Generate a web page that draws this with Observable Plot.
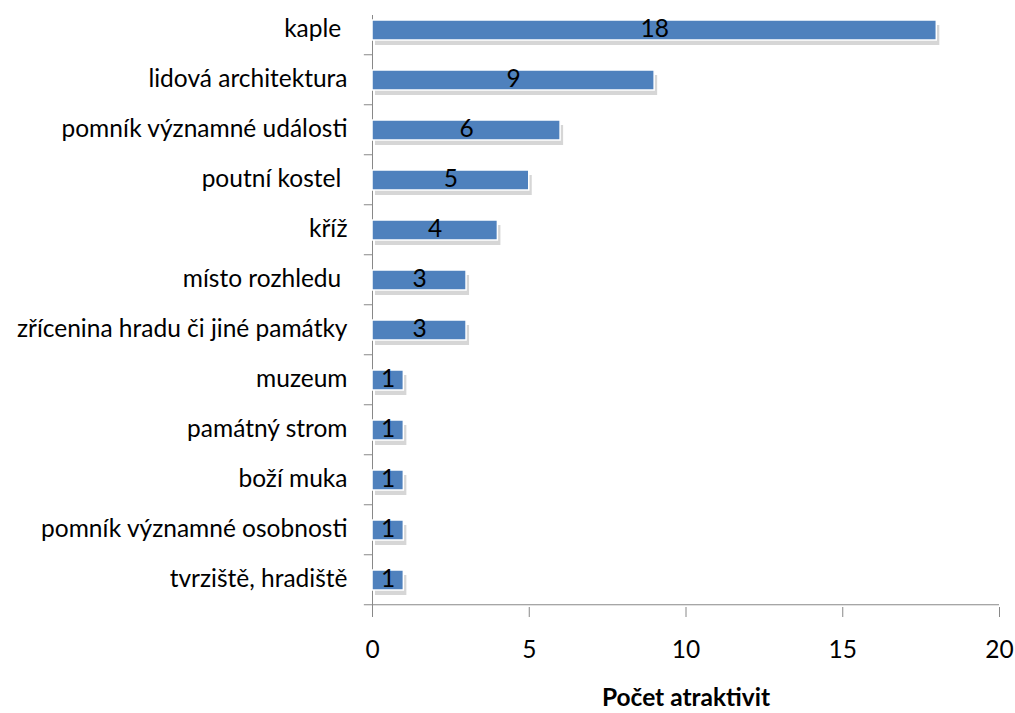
<!DOCTYPE html>
<html>
<head>
<meta charset="utf-8">
<script src="https://cdn.jsdelivr.net/npm/d3@7"></script>
<script src="https://cdn.jsdelivr.net/npm/@observablehq/plot@0.6"></script>
<style>
body { margin: 0; background: #fff; }
</style>
</head>
<body>
<div id="chart"></div>
<script>
const categories = [
  "kaple\u00a0",
  "lidová architektura",
  "pomník významné události",
  "poutní kostel\u00a0",
  "kříž",
  "místo rozhledu\u00a0",
  "zřícenina hradu či jiné památky",
  "muzeum",
  "památný strom",
  "boží muka",
  "pomník významné osobnosti",
  "tvrziště, hradiště"
];
const values = [18, 9, 6, 5, 4, 3, 3, 1, 1, 1, 1, 1];
const xTicks = [0, 5, 10, 15, 20];
const xTitle = "Počet atraktivit";

const data = categories.map((c, i) => ({category: c, value: values[i]}));
const FONT = "Lato";
const FS = 24.5;
const step = (607 - 1) / categories.length;

const chart = Plot.plot({
  width: 1015,
  height: 713,
  marginTop: 1,
  marginBottom: 106,
  marginLeft: 372,
  marginRight: 16,
  style: {fontFamily: FONT, fontSize: FS + "px", color: "#000", background: "#fff"},
  x: {domain: [0, 20], ticks: xTicks, label: null},
  y: {domain: categories, padding: 0, label: null},
  marks: [
    Plot.axisY({tickSize: 0, tickPadding: 25, fontSize: FS, label: null}),
    Plot.axisX({ticks: xTicks, tickSize: 10, tickPadding: 23, fontSize: FS, label: null, stroke: "#888"}),
    Plot.ruleX([0], {stroke: "#888", insetTop: 14}),
    Plot.ruleY(categories, {y: d => d, x1: -0.26, x2: 0, dy: step / 2, stroke: "#888"}),
    Plot.ruleY([0], {y: () => categories[categories.length - 1], dy: step / 2, x1: 0, x2: 20, stroke: "#888"}),
    Plot.barX(data, {y: "category", x: "value", insetTop: 18, insetBottom: 12, fill: "#999", fillOpacity: 0.4, dx: 3, dy: 3}),
    Plot.barX(data, {y: "category", x: "value", insetTop: 16, insetBottom: 14, fill: "#4F81BD", stroke: "#fff", strokeWidth: 1.5}),
    Plot.text(data, {y: "category", x: d => d.value / 2, text: d => String(d.value), fontSize: FS, fill: "#000", dy: 0}),
    Plot.text([xTitle], {frameAnchor: "bottom", dy: 98, fontWeight: "bold", fontSize: FS, fill: "#000"})
  ]
});
document.getElementById("chart").append(chart);
</script>
</body>
</html>
